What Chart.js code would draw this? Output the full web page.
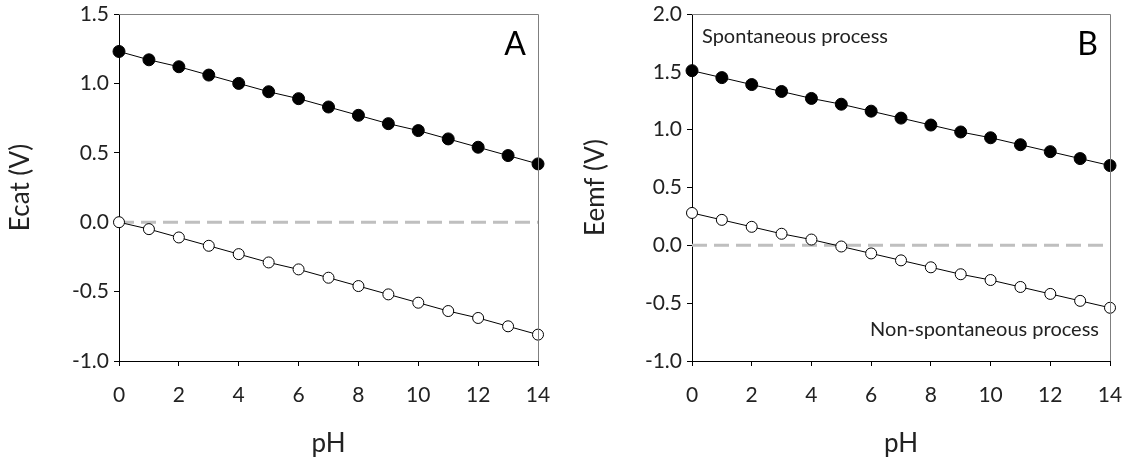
<!DOCTYPE html>
<html>
<head>
<meta charset="utf-8">
<script src="https://cdn.jsdelivr.net/npm/chart.js@4.4.1/dist/chart.umd.min.js"></script>
<style>
    body { margin: 0; background: #fff; }
    #wrap { position: relative; width: 1127px; height: 470px; }
    .panel { position: absolute; top: 0; height: 470px; }
</style>
</head>
<body>
<div id="wrap">
    <div class="panel" style="left:0;width:563px"><canvas id="chartA"></canvas></div>
    <div class="panel" style="left:563px;width:564px"><canvas id="chartB"></canvas></div>
</div>
<script>
// ------------------------
// DATA
// ------------------------

const pH = [0, 1, 2, 3, 4, 5, 6, 7, 8, 9, 10, 11, 12, 13, 14];

// panel A: Ecat (V)
const ecatFilled = [1.23, 1.17, 1.12, 1.06, 1.00, 0.94, 0.89, 0.83, 0.77, 0.71, 0.66, 0.60, 0.54, 0.48, 0.42];
const ecatOpen   = [0.00, -0.05, -0.11, -0.17, -0.23, -0.29, -0.34, -0.40, -0.46, -0.52, -0.58, -0.64, -0.69, -0.75, -0.81];

// panel B: Eemf (V)
const emfFilled = [1.51, 1.45, 1.39, 1.33, 1.27, 1.22, 1.16, 1.10, 1.04, 0.98, 0.93, 0.87, 0.81, 0.75, 0.69];
const emfOpen   = [0.28, 0.22, 0.16, 0.10, 0.05, -0.01, -0.07, -0.13, -0.19, -0.25, -0.30, -0.36, -0.42, -0.48, -0.54];

// zero reference line
const zeroX = [0, 14];
const zeroY = [0, 0];

const xTicks = [0, 2, 4, 6, 8, 10, 12, 14];
const yTicksA = [-1.0, -0.5, 0.0, 0.5, 1.0, 1.5];
const yTicksB = [-1.0, -0.5, 0.0, 0.5, 1.0, 1.5, 2.0];

const FONT = "Lato, 'Open Sans', sans-serif";
const TEXT = "#222";

function pts(xs, ys) {
    return xs.map((x, i) => ({ x, y: ys[i] }));
}

// gray top/right frame + panel letters and notes
const framePlugin = {
    id: "frame",
    afterDatasetsDraw(chart, args, opts) {
        const { ctx, chartArea: a } = chart;
        ctx.save();
        ctx.strokeStyle = "#7f7f7f";
        ctx.lineWidth = 1;
        ctx.beginPath();
        ctx.moveTo(a.left, a.top + 0.5);
        ctx.lineTo(a.right + 0.5, a.top + 0.5);
        ctx.lineTo(a.right + 0.5, a.bottom);
        ctx.stroke();

        ctx.fillStyle = "#000";
        ctx.font = "32px " + FONT;
        ctx.textAlign = "right";
        ctx.textBaseline = "alphabetic";
        ctx.fillText(opts.letter, a.right - 12, a.top + 41);

        ctx.fillStyle = TEXT;
        ctx.font = "20px " + FONT;
        (opts.notes || []).forEach(n => {
            ctx.textAlign = n.align;
            ctx.fillText(n.text, n.align === "left" ? a.left + 10 : a.right - 11, n.top ? a.top + 29 : a.bottom - 25);
        });
        ctx.restore();
    }
};

function makePanel(canvasId, cfg) {
    const ctx = document.getElementById(canvasId).getContext("2d");
    return new Chart(ctx, {
        type: "scatter",
        data: {
            datasets: [
                {
                    label: "filled",
                    data: pts(pH, cfg.filled),
                    showLine: true,
                    borderColor: "#000",
                    borderWidth: 1,
                    pointRadius: 6,
                    pointBackgroundColor: "#000",
                    pointBorderColor: "#000",
                    clip: false
                },
                {
                    label: "open",
                    data: pts(pH, cfg.open),
                    showLine: true,
                    borderColor: "#000",
                    borderWidth: 1,
                    pointRadius: 5.5,
                    pointBackgroundColor: "#fff",
                    pointBorderColor: "#000",
                    pointBorderWidth: 1,
                    clip: false
                },
                {
                    label: "zero",
                    data: pts(zeroX, zeroY),
                    showLine: true,
                    borderColor: "#bfbfbf",
                    borderWidth: 3,
                    borderDash: [15, 7],
                    pointRadius: 0,
                    clip: false
                }
            ]
        },
        options: {
            responsive: true,
            maintainAspectRatio: false,
            animation: false,
            events: [],
            layout: { padding: { top: 14, right: cfg.padRight, bottom: 0, left: 0 } },
            plugins: {
                legend: { display: false },
                tooltip: { enabled: false },
                frame: { letter: cfg.letter, notes: cfg.notes }
            },
            scales: {
                x: {
                    type: "linear",
                    min: 0, max: 14,
                    afterBuildTicks: s => { s.ticks = xTicks.map(v => ({ value: v })); },
                    afterFit: s => { s.height = 470 - 361; s.paddingLeft = 0; s.paddingRight = 0; },
                    grid: { drawOnChartArea: false, color: "#000", tickLength: 5, tickColor: "#000" },
                    border: { color: "#000", width: 1 },
                    ticks: { color: TEXT, font: { family: FONT, size: 21 }, padding: 17, maxRotation: 0 },
                    title: { display: true, text: "pH", color: TEXT, font: { family: FONT, size: 26 }, padding: { top: 0, bottom: 11 } }
                },
                y: {
                    type: "linear",
                    min: cfg.yMin, max: cfg.yMax,
                    afterBuildTicks: s => { s.ticks = cfg.yTicks.map(v => ({ value: v })); },
                    afterFit: s => { s.width = cfg.leftW; s.paddingTop = 0; s.paddingBottom = 0; },
                    grid: { drawOnChartArea: false, color: "#000", tickLength: 5, tickColor: "#000" },
                    border: { color: "#000", width: 1 },
                    ticks: { color: TEXT, font: { family: FONT, size: 21 }, padding: 5, callback: v => v.toFixed(1) },
                    title: { display: true, text: cfg.yTitle, color: TEXT, font: { family: FONT, size: 26 }, padding: { top: cfg.titlePad, bottom: 0 } }
                }
            }
        },
        plugins: [framePlugin]
    });
}

makePanel("chartA", {
    filled: ecatFilled, open: ecatOpen,
    yMin: -1.0, yMax: 1.5, yTicks: yTicksA,
    yTitle: "Ecat (V)", letter: "A",
    leftW: 119, padRight: 25, titlePad: 5,
    notes: []
});

makePanel("chartB", {
    filled: emfFilled, open: emfOpen,
    yMin: -1.0, yMax: 2.0, yTicks: yTicksB,
    yTitle: "Eemf (V)", letter: "B",
    leftW: 129, padRight: 17, titlePad: 17,
    notes: [
        { text: "Spontaneous process", align: "left", top: true },
        { text: "Non-spontaneous process", align: "right", top: false }
    ]
});
</script>
</body>
</html>
